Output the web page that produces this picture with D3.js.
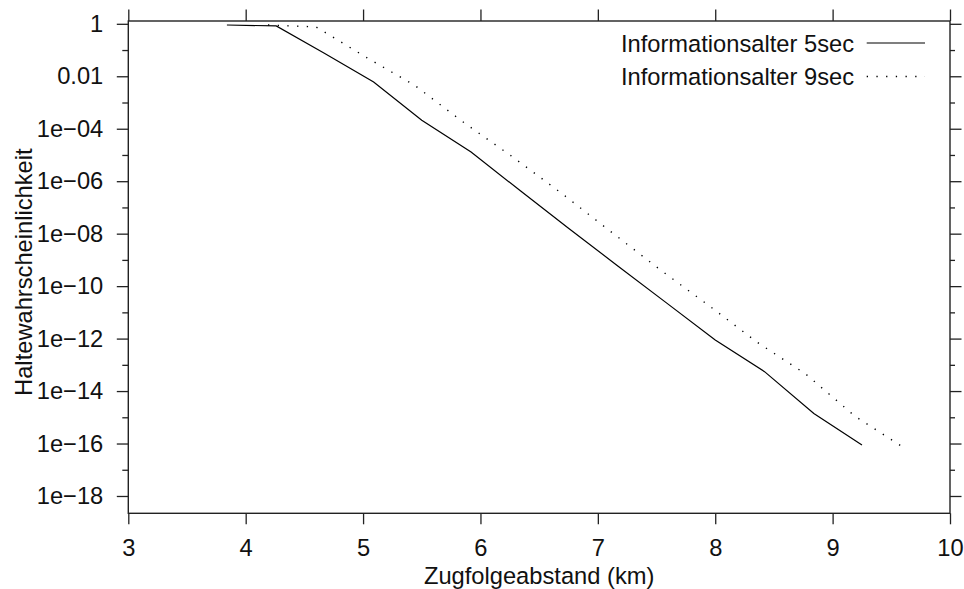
<!DOCTYPE html>
<html>
<head>
<meta charset="utf-8">
<script src="https://cdn.jsdelivr.net/npm/d3@7"></script>
<style>
  body { margin: 0; background: #fff; }
  svg { display: block; font-family: "Liberation Sans", Arial, sans-serif; }
</style>
</head>
<body>
<div id="chart"></div>
<script>
// distance (km) and stop probability
const distKm5 = [3.84, 4.26, 4.67, 5.09, 5.50, 5.92, 6.34, 6.75, 7.17, 7.59, 8.00, 8.42, 8.84, 9.25];
const prob5 = [0.90, 0.83, 7.6e-2, 6.0e-3, 2.1e-4, 1.3e-5, 4.3e-7, 1.6e-8, 5.9e-10, 2.2e-11, 8.9e-13, 5.5e-14, 1.4e-15, 8.7e-17];
const distKm9 = [4.19, 4.60, 5.02, 5.44, 5.86, 6.27, 6.69, 7.11, 7.52, 7.94, 8.36, 8.77, 9.19, 9.58];
const prob9 = [0.90, 0.76, 5.5e-2, 4.5e-3, 1.7e-4, 8.7e-6, 3.5e-7, 1.2e-8, 4.6e-10, 1.9e-11, 7.1e-13, 4.5e-14, 1.1e-15, 8.3e-17];

const seriesNames = ["Informationsalter 5sec", "Informationsalter 9sec"];
const xTicks = [3, 4, 5, 6, 7, 8, 9, 10];
const yTicks = [1, 1e-2, 1e-4, 1e-6, 1e-8, 1e-10, 1e-12, 1e-14, 1e-16, 1e-18];
const yTickLabels = ["1", "0.01", "1e\u221204", "1e\u221206", "1e\u221208", "1e\u221210", "1e\u221212", "1e\u221214", "1e\u221216", "1e\u221218"];
const yMinor = [1e-1, 1e-3, 1e-5, 1e-7, 1e-9, 1e-11, 1e-13, 1e-15, 1e-17];

const W = 964, H = 589;
const L = 128.3, R = 950, T = 21, B = 513.3;
const fs = 23.7;

const svg = d3.select("#chart").append("svg")
  .attr("width", W)
  .attr("height", H);

const x = d3.scaleLinear().domain([3, 10]).range([L, R]);
const y = d3.scaleLog().domain([Math.pow(10, -18.66), Math.pow(10, 0.107)]).range([B, T]);

function styleAxis(g) {
  g.select(".domain").remove();
  g.selectAll("line").attr("stroke", "#222").attr("stroke-width", 1.3);
  g.selectAll("text").attr("font-size", fs).attr("fill", "#111")
    .attr("font-family", "'Liberation Sans', Arial, sans-serif");
}

// bottom axis with labels
svg.append("g").attr("transform", `translate(0,${B})`)
  .call(d3.axisBottom(x).tickValues(xTicks).tickFormat(d3.format("d")).tickSize(11).tickPadding(14.5))
  .call(styleAxis);

// top axis, ticks only
svg.append("g").attr("transform", `translate(0,${T})`)
  .call(d3.axisTop(x).tickValues(xTicks).tickFormat("").tickSize(11.5))
  .call(styleAxis);

// left axis
svg.append("g").attr("transform", `translate(${L},0)`)
  .call(d3.axisLeft(y).tickValues(yTicks).tickFormat((d, i) => yTickLabels[i]).tickSize(11.5).tickPadding(13.5))
  .call(styleAxis);
svg.append("g").attr("transform", `translate(${L},0)`)
  .call(d3.axisLeft(y).tickValues(yMinor).tickFormat("").tickSize(6))
  .call(styleAxis);

// right axis
svg.append("g").attr("transform", `translate(${R},0)`)
  .call(d3.axisRight(y).tickValues(yTicks).tickFormat("").tickSize(11.5))
  .call(styleAxis);
svg.append("g").attr("transform", `translate(${R},0)`)
  .call(d3.axisRight(y).tickValues(yMinor).tickFormat("").tickSize(5))
  .call(styleAxis);

// plot box
svg.append("rect")
  .attr("x", L).attr("y", T)
  .attr("width", R - L).attr("height", B - T)
  .attr("fill", "none")
  .attr("stroke", "#222")
  .attr("stroke-width", 1.4);

const line = d3.line()
  .x(d => x(d[0]))
  .y(d => y(d[1]));

svg.append("path")
  .datum(d3.zip(distKm5, prob5))
  .attr("d", line)
  .attr("fill", "none")
  .attr("stroke", "#000")
  .attr("stroke-width", 1.2);

svg.append("path")
  .datum(d3.zip(distKm9, prob9))
  .attr("d", line)
  .attr("fill", "none")
  .attr("stroke", "#000")
  .attr("stroke-width", 1.4)
  .attr("stroke-dasharray", "1.3 8.4");

// legend
const legend = svg.append("g");
const legY = [43, 76.5];
seriesNames.forEach((name, i) => {
  legend.append("text")
    .attr("x", 854)
    .attr("y", legY[i])
    .attr("dy", "0.36em")
    .attr("text-anchor", "end")
    .attr("font-size", fs)
    .attr("fill", "#111")
    .text(name);
  legend.append("line")
    .attr("x1", 866.7).attr("x2", 925)
    .attr("y1", legY[i]).attr("y2", legY[i])
    .attr("stroke", "#000")
    .attr("stroke-width", i === 0 ? 1.2 : 1.4)
    .attr("stroke-dasharray", i === 0 ? null : "1.3 8.4");
});

// axis titles
svg.append("text")
  .attr("x", (L + R) / 2)
  .attr("y", 584)
  .attr("text-anchor", "middle")
  .attr("font-size", fs)
  .attr("fill", "#111")
  .text("Zugfolgeabstand (km)");

svg.append("text")
  .attr("transform", `translate(31.5,${(T + B) / 2 + 5}) rotate(-90)`)
  .attr("text-anchor", "middle")
  .attr("font-size", fs)
  .attr("fill", "#111")
  .text("Haltewahrscheinlichkeit");
</script>
</body>
</html>
